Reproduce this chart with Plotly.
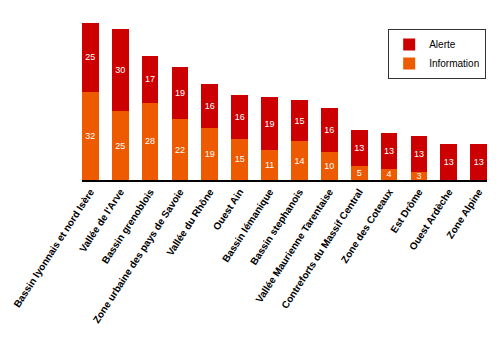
import plotly.graph_objects as go

categories = [
    "Bassin lyonnais et nord Isère", "Vallée de l'Arve", "Bassin grenoblois",
    "Zone urbaine des pays de Savoie", "Vallée du Rhône", "Ouest Ain",
    "Bassin lémanique", "Bassin stephanois", "Vallée Maurienne Tarentaise",
    "Contreforts du Massif Central", "Zone des Coteaux", "Est Drôme",
    "Ouest Ardèche", "Zone Alpine",
]
information = [32, 25, 28, 22, 19, 15, 11, 14, 10, 5, 4, 3, 0, 0]
alerte = [25, 30, 17, 19, 16, 16, 19, 15, 16, 13, 13, 13, 13, 13]

RED = "#CC0000"
ORANGE = "#EE5A00"
FONT = "Liberation Sans, Arial, sans-serif"

fig = go.Figure()
fig.add_trace(go.Bar(
    name="Information", x=categories, y=information, marker_color=ORANGE,
    marker_line_width=0,
    text=[str(v) if v else "" for v in information], textposition="inside",
    insidetextanchor="middle", constraintext="none", textangle=0,
    textfont=dict(color="white", size=9, family=FONT),
))
fig.add_trace(go.Bar(
    name="Alerte", x=categories, y=alerte, marker_color=RED,
    marker_line_width=0,
    text=[str(v) if v else "" for v in alerte], textposition="inside",
    insidetextanchor="middle", constraintext="none", textangle=0,
    textfont=dict(color="white", size=9, family=FONT),
))

fig.update_layout(
    width=500, height=353,
    margin=dict(l=82, r=13, t=23, b=173, pad=0),
    barmode="stack", bargap=0.44,
    paper_bgcolor="white", plot_bgcolor="white",
    font=dict(family=FONT, color="black"),
    showlegend=True,
    legend=dict(
        traceorder="reversed", x=0.998, xanchor="right", y=0.962, yanchor="top",
        bordercolor="#333333", borderwidth=1, bgcolor="white",
        font=dict(size=10, family=FONT, color="black"),
        tracegroupgap=0, itemwidth=30,
    ),
    xaxis=dict(
        type="category", range=[-0.28, 13.28], showgrid=False,
        showline=True, linecolor="black", linewidth=2, ticks="",
        tickangle=-57, tickfont=dict(size=10, family=FONT, color="black", weight="bold"),
        fixedrange=True,
    ),
    yaxis=dict(
        range=[0, 57], visible=False, showgrid=False, zeroline=False,
    ),
)

fig.write_html("out.html")
